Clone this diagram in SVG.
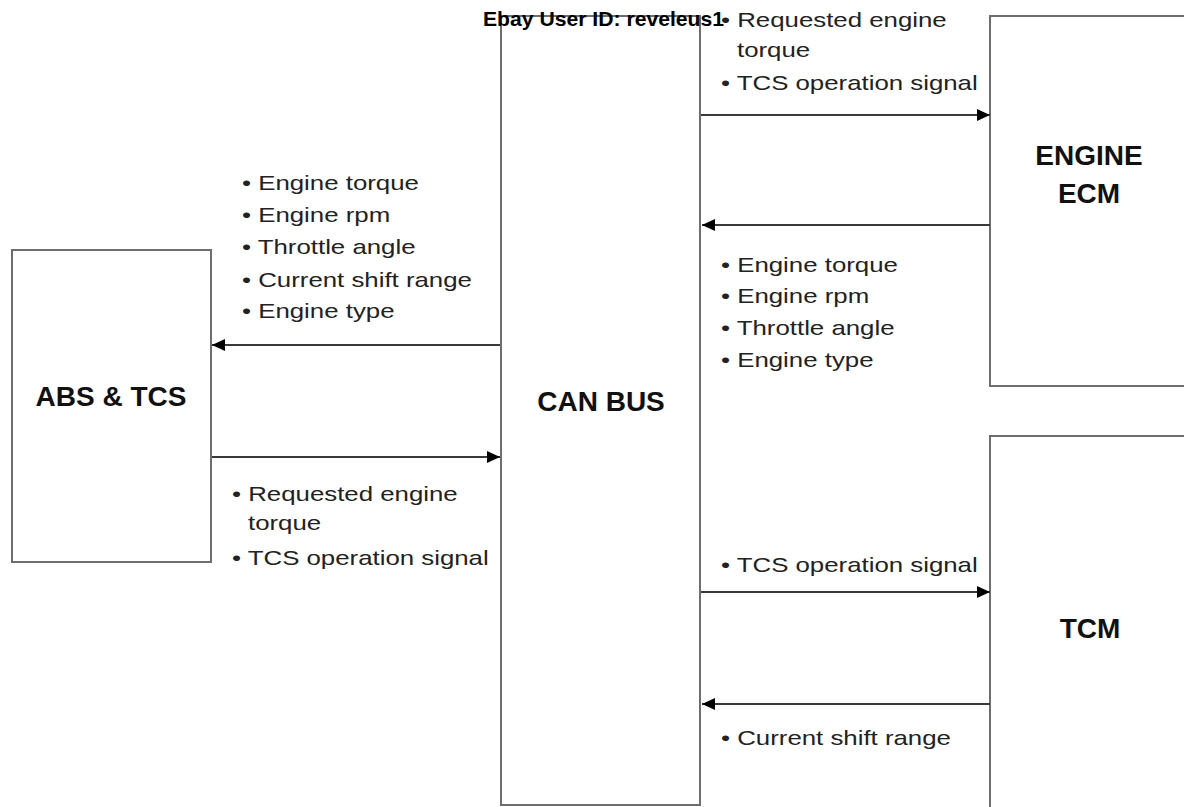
<svg xmlns="http://www.w3.org/2000/svg" width="1184" height="807" viewBox="0 0 1184 807">
<style>
.box{fill:#fff;stroke:#6e6e6e;stroke-width:2}
.lbl{font-family:"Liberation Sans",Arial,sans-serif;font-weight:bold;font-size:28px;fill:#111;text-anchor:middle}
.t{font-family:"Liberation Sans",Arial,sans-serif;font-size:21px;fill:#222}
.c{stroke:#3a3a3a;stroke-width:2;fill:none;marker-end:url(#ah)}
.wm{font-family:"Liberation Sans",Arial,sans-serif;font-weight:bold;font-size:21px;fill:#000}
</style>
<defs>
<marker id="ah" markerUnits="userSpaceOnUse" markerWidth="14" markerHeight="13" refX="13" refY="6" orient="auto">
<path d="M0,0 L13,6 L0,12 z" fill="#000"/>
</marker>
</defs>
<rect width="1184" height="807" fill="#fff"/>
<g id="can-bus">
<rect class="box" x="501" y="16" width="199" height="789"/>
<text class="lbl" x="601" y="411">CAN BUS</text>
</g>
<g id="engine-ecm">
<rect class="box" x="990" y="16" width="210" height="370"/>
<text class="lbl" x="1089" y="165">ENGINE</text>
<text class="lbl" x="1089" y="203">ECM</text>
</g>
<g id="tcm">
<rect class="box" x="990" y="436" width="210" height="390"/>
<text class="lbl" x="1090" y="638">TCM</text>
</g>
<g id="abs-tcs">
<rect class="box" x="12" y="250" width="199" height="312"/>
<text class="lbl" x="111" y="406">ABS &amp; TCS</text>
</g>
<g id="connectors">
<line class="c" x1="701" y1="115" x2="990" y2="115"/>
<line class="c" x1="990" y1="225" x2="702" y2="225"/>
<line class="c" x1="500" y1="345" x2="212" y2="345"/>
<line class="c" x1="212" y1="457" x2="500" y2="457"/>
<line class="c" x1="701" y1="592" x2="990" y2="592"/>
<line class="c" x1="990" y1="704" x2="702" y2="704"/>
</g>
<g id="labels-can-to-ecm">
<text class="t" transform="translate(721,27) scale(1.23,1)">• Requested engine</text>
<text class="t" transform="translate(737,57) scale(1.23,1)">torque</text>
<text class="t" transform="translate(721,90) scale(1.23,1)">• TCS operation signal</text>
</g>
<g id="labels-ecm-to-can">
<text class="t" transform="translate(721,272) scale(1.23,1)">• Engine torque</text>
<text class="t" transform="translate(721,303) scale(1.23,1)">• Engine rpm</text>
<text class="t" transform="translate(721,335) scale(1.23,1)">• Throttle angle</text>
<text class="t" transform="translate(721,367) scale(1.23,1)">• Engine type</text>
</g>
<g id="labels-can-to-abs">
<text class="t" transform="translate(242,190) scale(1.23,1)">• Engine torque</text>
<text class="t" transform="translate(242,222) scale(1.23,1)">• Engine rpm</text>
<text class="t" transform="translate(242,254) scale(1.23,1)">• Throttle angle</text>
<text class="t" transform="translate(242,287) scale(1.23,1)">• Current shift range</text>
<text class="t" transform="translate(242,318) scale(1.23,1)">• Engine type</text>
</g>
<g id="labels-abs-to-can">
<text class="t" transform="translate(232,501) scale(1.23,1)">• Requested engine</text>
<text class="t" transform="translate(248,530) scale(1.23,1)">torque</text>
<text class="t" transform="translate(232,565) scale(1.23,1)">• TCS operation signal</text>
</g>
<g id="labels-can-to-tcm">
<text class="t" transform="translate(721,572) scale(1.23,1)">• TCS operation signal</text>
</g>
<g id="labels-tcm-to-can">
<text class="t" transform="translate(721,745) scale(1.23,1)">• Current shift range</text>
</g>
<text class="wm" x="483" y="26" textLength="241" lengthAdjust="spacingAndGlyphs">Ebay User ID: reveleus1</text>
</svg>
